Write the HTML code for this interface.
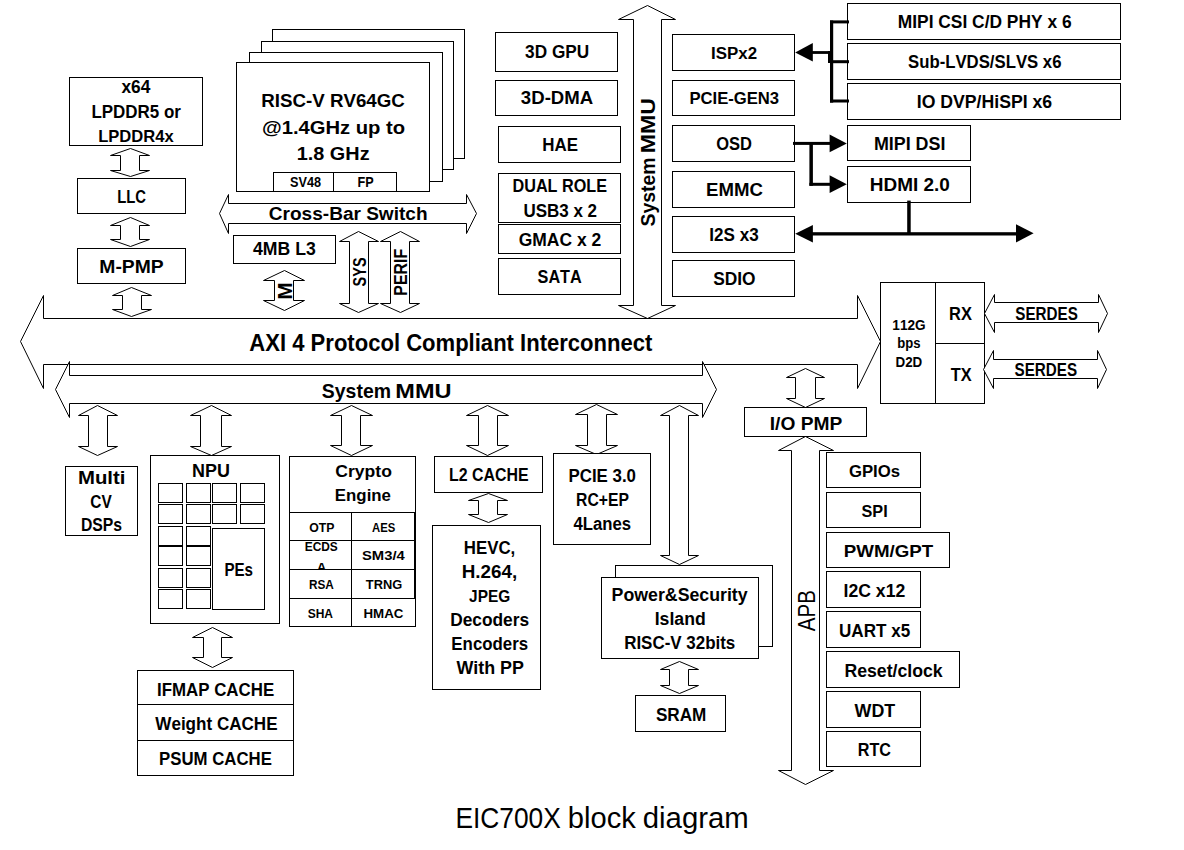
<!DOCTYPE html>
<html><head><meta charset="utf-8"><style>
html,body{margin:0;padding:0;background:#fff;width:1184px;height:850px;overflow:hidden}
svg{display:block}
text{font-family:"Liberation Sans",sans-serif;font-kerning:none;font-feature-settings:"kern" 0}
</style></head><body>
<svg width="1184" height="850" viewBox="0 0 1184 850">
<rect width="1184" height="850" fill="#fff"/>
<polygon points="130.5,148.5 149.5,155.5 139.5,155.5 139.5,170.5 149.5,170.5 130.5,176.5 110.5,170.5 120.5,170.5 120.5,155.5 110.5,155.5" fill="#fff" stroke="#000" stroke-width="1" stroke-linejoin="miter"/>
<polygon points="130.5,217.5 149.5,225.5 139.5,225.5 139.5,239.5 149.5,239.5 130.5,246.5 110.5,239.5 120.5,239.5 120.5,225.5 110.5,225.5" fill="#fff" stroke="#000" stroke-width="1" stroke-linejoin="miter"/>
<polygon points="131.5,287.5 151.5,295.5 141.5,295.5 141.5,309.5 151.5,309.5 131.5,316.5 112.5,309.5 122.5,309.5 122.5,295.5 112.5,295.5" fill="#fff" stroke="#000" stroke-width="1" stroke-linejoin="miter"/>
<rect x="69.5" y="77.5" width="133.0" height="68.0" fill="#fff" stroke="#000" stroke-width="1"/>
<text transform="translate(121.48,93.30) scale(0.9693,1)" font-size="17.88" font-weight="bold" fill="#000">x64</text>
<text transform="translate(91.46,118.30) scale(0.9732,1)" font-size="17.44" font-weight="bold" fill="#000">LPDDR5 or</text>
<text transform="translate(98.19,142.30) scale(0.9917,1)" font-size="16.72" font-weight="bold" fill="#000">LPDDR4x</text>
<rect x="77.5" y="178.5" width="108.0" height="35.0" fill="#fff" stroke="#000" stroke-width="1"/>
<text transform="translate(117.21,202.50) scale(0.8524,1)" font-size="17.44" font-weight="bold" fill="#000">LLC</text>
<rect x="77.5" y="248.5" width="108.0" height="35.0" fill="#fff" stroke="#000" stroke-width="1"/>
<text transform="translate(99.31,273.40) scale(1.0817,1)" font-size="17.88" font-weight="bold" fill="#000">M-PMP</text>
<rect x="272.5" y="29.5" width="192.0" height="129.0" fill="#fff" stroke="#000" stroke-width="1"/>
<rect x="261.5" y="41.5" width="192.0" height="128.0" fill="#fff" stroke="#000" stroke-width="1"/>
<rect x="249.5" y="52.5" width="193.0" height="129.0" fill="#fff" stroke="#000" stroke-width="1"/>
<rect x="236.5" y="62.5" width="193.0" height="129.0" fill="#fff" stroke="#000" stroke-width="1"/>
<rect x="273.5" y="172.5" width="60.0" height="19.0" fill="#fff" stroke="#000" stroke-width="1"/>
<rect x="333.5" y="172.5" width="63.0" height="19.0" fill="#fff" stroke="#000" stroke-width="1"/>
<text transform="translate(261.25,106.80) scale(0.9915,1)" font-size="18.90" font-weight="bold" fill="#000">RISC-V RV64GC</text>
<text transform="translate(262.05,134.00) scale(1.0690,1)" font-size="18.90" font-weight="bold" fill="#000">@1.4GHz up to</text>
<text transform="translate(296.75,160.00) scale(1.0514,1)" font-size="18.90" font-weight="bold" fill="#000">1.8 GHz</text>
<text transform="translate(290.03,187.20) scale(0.9194,1)" font-size="13.81" font-weight="bold" fill="#000">SV48</text>
<text transform="translate(357.45,187.20) scale(0.9170,1)" font-size="13.81" font-weight="bold" fill="#000">FP</text>
<polygon points="219.5,213.5 228.5,194.5 228.5,203.5 466.5,203.5 466.5,194.5 476.5,213.5 466.5,233.5 466.5,223.5 228.5,223.5 228.5,233.5" fill="#fff" stroke="#000" stroke-width="1" stroke-linejoin="miter"/>
<text transform="translate(268.82,220.40) scale(0.9927,1)" font-size="19.19" font-weight="bold" fill="#000">Cross-Bar Switch</text>
<rect x="233.5" y="235.5" width="102.0" height="28.0" fill="#fff" stroke="#000" stroke-width="1"/>
<text transform="translate(253.03,255.30) scale(0.9493,1)" font-size="18.60" font-weight="bold" fill="#000">4MB L3</text>
<polygon points="284.5,270.5 304.5,280.5 293.5,280.5 293.5,300.5 304.5,300.5 284.5,310.5 263.5,300.5 274.5,300.5 274.5,280.5 263.5,280.5" fill="#fff" stroke="#000" stroke-width="1" stroke-linejoin="miter"/>
<text transform="translate(291.60,299.57) rotate(-90) scale(1.0346,1)" font-size="19.77" font-weight="bold" fill="#000">M</text>
<polygon points="358.5,231.5 378.5,241.5 368.5,241.5 368.5,303.5 378.5,303.5 358.5,312.5 339.5,303.5 349.5,303.5 349.5,241.5 339.5,241.5" fill="#fff" stroke="#000" stroke-width="1" stroke-linejoin="miter"/>
<text transform="translate(365.60,286.42) rotate(-90) scale(0.7666,1)" font-size="18.90" font-weight="bold" fill="#000">SYS</text>
<polygon points="400.5,231.5 419.5,241.5 409.5,241.5 409.5,303.5 419.5,303.5 400.5,312.5 380.5,303.5 390.5,303.5 390.5,241.5 380.5,241.5" fill="#fff" stroke="#000" stroke-width="1" stroke-linejoin="miter"/>
<text transform="translate(406.90,295.66) rotate(-90) scale(0.8686,1)" font-size="18.31" font-weight="bold" fill="#000">PERIF</text>
<polygon points="647.5,5.5 675.5,19.5 661.5,19.5 661.5,305.5 675.5,305.5 647.5,318.5 618.5,305.5 633.5,305.5 633.5,19.5 618.5,19.5" fill="#fff" stroke="#000" stroke-width="1" stroke-linejoin="miter"/>
<text transform="translate(655.00,153.14) rotate(-90) scale(1.0958,1)" font-size="21.08" font-weight="bold" fill="#000">MMU</text>
<text transform="translate(655.00,226.46) rotate(-90) scale(0.9197,1)" font-size="21.08" font-weight="bold" fill="#000">System</text>
<rect x="495.5" y="32.5" width="122.0" height="39.0" fill="#fff" stroke="#000" stroke-width="1"/>
<text transform="translate(525.10,57.90) scale(0.9716,1)" font-size="17.73" font-weight="bold" fill="#000">3D GPU</text>
<rect x="495.5" y="80.5" width="122.0" height="35.0" fill="#fff" stroke="#000" stroke-width="1"/>
<text transform="translate(520.87,104.10) scale(1.0662,1)" font-size="17.44" font-weight="bold" fill="#000">3D-DMA</text>
<rect x="498.5" y="126.5" width="122.0" height="36.0" fill="#fff" stroke="#000" stroke-width="1"/>
<text transform="translate(542.27,151.20) scale(0.9692,1)" font-size="17.44" font-weight="bold" fill="#000">HAE</text>
<rect x="498.5" y="173.5" width="122.0" height="49.0" fill="#fff" stroke="#000" stroke-width="1"/>
<text transform="translate(512.52,192.10) scale(0.9290,1)" font-size="17.44" font-weight="bold" fill="#000">DUAL ROLE</text>
<text transform="translate(523.38,216.50) scale(0.9747,1)" font-size="17.44" font-weight="bold" fill="#000">USB3 x 2</text>
<rect x="498.5" y="224.5" width="122.0" height="29.0" fill="#fff" stroke="#000" stroke-width="1"/>
<text transform="translate(518.68,246.10) scale(1.0029,1)" font-size="17.44" font-weight="bold" fill="#000">GMAC x 2</text>
<rect x="498.5" y="258.5" width="122.0" height="36.0" fill="#fff" stroke="#000" stroke-width="1"/>
<text transform="translate(537.53,282.90) scale(0.9029,1)" font-size="18.02" font-weight="bold" fill="#000">SATA</text>
<rect x="672.5" y="34.5" width="122.0" height="36.0" fill="#fff" stroke="#000" stroke-width="1"/>
<text transform="translate(711.07,59.30) scale(0.9931,1)" font-size="17.01" font-weight="bold" fill="#000">ISPx2</text>
<rect x="672.5" y="80.5" width="122.0" height="35.0" fill="#fff" stroke="#000" stroke-width="1"/>
<text transform="translate(689.39,104.10) scale(0.9634,1)" font-size="17.30" font-weight="bold" fill="#000">PCIE-GEN3</text>
<rect x="672.5" y="125.5" width="122.0" height="36.0" fill="#fff" stroke="#000" stroke-width="1"/>
<text transform="translate(716.22,150.20) scale(0.9309,1)" font-size="17.73" font-weight="bold" fill="#000">OSD</text>
<rect x="672.5" y="171.5" width="122.0" height="36.0" fill="#fff" stroke="#000" stroke-width="1"/>
<text transform="translate(706.06,196.00) scale(1.0081,1)" font-size="18.46" font-weight="bold" fill="#000">EMMC</text>
<rect x="672.5" y="216.5" width="122.0" height="36.0" fill="#fff" stroke="#000" stroke-width="1"/>
<text transform="translate(709.36,240.70) scale(0.9473,1)" font-size="18.02" font-weight="bold" fill="#000">I2S x3</text>
<rect x="672.5" y="260.5" width="122.0" height="36.0" fill="#fff" stroke="#000" stroke-width="1"/>
<text transform="translate(713.20,284.80) scale(0.9401,1)" font-size="18.46" font-weight="bold" fill="#000">SDIO</text>
<rect x="847.5" y="3.5" width="273.0" height="36.0" fill="#fff" stroke="#000" stroke-width="1"/>
<text transform="translate(897.74,27.90) scale(0.9815,1)" font-size="17.73" font-weight="bold" fill="#000">MIPI CSI C/D PHY x 6</text>
<rect x="847.5" y="43.5" width="273.0" height="36.0" fill="#fff" stroke="#000" stroke-width="1"/>
<text transform="translate(908.02,68.10) scale(0.9447,1)" font-size="17.73" font-weight="bold" fill="#000">Sub-LVDS/SLVS x6</text>
<rect x="847.5" y="83.5" width="273.0" height="36.0" fill="#fff" stroke="#000" stroke-width="1"/>
<text transform="translate(916.72,108.20) scale(0.9972,1)" font-size="17.73" font-weight="bold" fill="#000">IO DVP/HiSPI x6</text>
<rect x="847.5" y="125.5" width="123.0" height="35.0" fill="#fff" stroke="#000" stroke-width="1"/>
<text transform="translate(873.90,149.50) scale(0.9850,1)" font-size="18.17" font-weight="bold" fill="#000">MIPI DSI</text>
<rect x="847.5" y="166.5" width="123.0" height="36.0" fill="#fff" stroke="#000" stroke-width="1"/>
<text transform="translate(869.83,191.30) scale(1.0777,1)" font-size="17.59" font-weight="bold" fill="#000">HDMI 2.0</text>
<rect x="830.0" y="20.5" width="3.2" height="82.1" fill="#000"/>
<rect x="830.0" y="20.4" width="19.0" height="3.0" fill="#000"/>
<rect x="830.0" y="60.2" width="19.0" height="3.0" fill="#000"/>
<rect x="830.0" y="99.5" width="19.0" height="3.0" fill="#000"/>
<rect x="812.0" y="51.1" width="20.0" height="2.8" fill="#000"/>
<rect x="828" y="51" width="3" height="12" fill="#000"/>
<polygon points="795.2,52.4 812.8,43.1 812.8,61.6" fill="#000"/>
<rect x="793.0" y="141.9" width="38.0" height="3.0" fill="#000"/>
<polygon points="846.8,143.4 829.6,134.6 829.6,152.2" fill="#000"/>
<rect x="809.4" y="142.0" width="3.5" height="43.8" fill="#000"/>
<rect x="809.4" y="182.8" width="21.6" height="3.0" fill="#000"/>
<polygon points="846.8,184.2 829.6,175.3 829.6,193.0" fill="#000"/>
<rect x="907.2" y="200.6" width="3.5" height="34.4" fill="#000"/>
<rect x="812.0" y="232.2" width="205.0" height="3.3" fill="#000"/>
<polygon points="795.2,233.8 812.9,225.0 812.9,242.6" fill="#000"/>
<polygon points="1033.6,233.3 1016.0,224.2 1016.0,242.4" fill="#000"/>
<polygon points="20.5,341.5 43.5,295.5 43.5,318.5 857.5,318.5 857.5,295.5 880.5,341.5 857.5,388.5 857.5,364.5 43.5,364.5 43.5,388.5" fill="#fff" stroke="#000" stroke-width="1" stroke-linejoin="miter"/>
<text transform="translate(249.35,350.70) scale(0.9483,1)" font-size="23.26" font-weight="bold" fill="#000">AXI 4 Protocol Compliant Interconnect</text>
<polygon points="55.5,389.5 69.5,361.5 69.5,375.5 702.5,375.5 702.5,361.5 716.5,389.5 702.5,417.5 702.5,403.5 69.5,403.5 69.5,417.5" fill="#fff" stroke="#000" stroke-width="1" stroke-linejoin="miter"/>
<text transform="translate(321.84,397.50) scale(0.9289,1)" font-size="20.93" font-weight="bold" fill="#000">System</text>
<text transform="translate(395.33,397.50) scale(1.1246,1)" font-size="20.93" font-weight="bold" fill="#000">MMU</text>
<rect x="880.5" y="282.5" width="104.0" height="121.0" fill="#fff" stroke="#000" stroke-width="1"/>
<line x1="935.5" y1="282.5" x2="935.5" y2="403.5" stroke="#000" stroke-width="1"/>
<line x1="935.5" y1="343.5" x2="984.5" y2="343.5" stroke="#000" stroke-width="1"/>
<text transform="translate(892.34,330.40) scale(0.9890,1)" font-size="13.81" font-weight="bold" fill="#000">112G</text>
<text transform="translate(897.24,348.30) scale(0.9492,1)" font-size="13.81" font-weight="bold" fill="#000">bps</text>
<text transform="translate(895.51,367.30) scale(0.9686,1)" font-size="13.81" font-weight="bold" fill="#000">D2D</text>
<text transform="translate(949.10,320.30) scale(0.9350,1)" font-size="17.59" font-weight="bold" fill="#000">RX</text>
<text transform="translate(950.72,380.50) scale(0.8970,1)" font-size="18.17" font-weight="bold" fill="#000">TX</text>
<polygon points="984.5,313.5 994.5,294.5 994.5,302.5 1098.5,302.5 1098.5,294.5 1107.5,313.5 1098.5,332.5 1098.5,322.5 994.5,322.5 994.5,332.5" fill="#fff" stroke="#000" stroke-width="1" stroke-linejoin="miter"/>
<text transform="translate(1015.26,320.30) scale(0.8660,1)" font-size="17.59" font-weight="bold" fill="#000">SERDES</text>
<polygon points="983.5,369.5 993.5,350.5 993.5,359.5 1097.5,359.5 1097.5,350.5 1106.5,369.5 1097.5,388.5 1097.5,378.5 993.5,378.5 993.5,388.5" fill="#fff" stroke="#000" stroke-width="1" stroke-linejoin="miter"/>
<text transform="translate(1014.56,375.80) scale(0.8718,1)" font-size="17.44" font-weight="bold" fill="#000">SERDES</text>
<polygon points="805.5,368.5 824.5,377.5 815.5,377.5 815.5,398.5 824.5,398.5 805.5,407.5 786.5,398.5 795.5,398.5 795.5,377.5 786.5,377.5" fill="#fff" stroke="#000" stroke-width="1" stroke-linejoin="miter"/>
<polygon points="805.5,436.5 833.5,450.5 819.5,450.5 819.5,770.5 833.5,770.5 805.5,784.5 778.5,770.5 791.5,770.5 791.5,450.5 778.5,450.5" fill="#fff" stroke="#000" stroke-width="1" stroke-linejoin="miter"/>
<rect x="744.5" y="407.5" width="122.0" height="29.0" fill="#fff" stroke="#000" stroke-width="1"/>
<text transform="translate(769.72,429.50) scale(1.0161,1)" font-size="18.90" font-weight="bold" fill="#000">I/O PMP</text>
<text transform="translate(814.50,631.24) rotate(-90) scale(0.8367,1)" font-size="24.56" font-weight="normal" fill="#000">APB</text>
<rect x="826.5" y="452.5" width="94.0" height="35.0" fill="#fff" stroke="#000" stroke-width="1"/>
<text transform="translate(848.91,477.10) scale(0.9930,1)" font-size="16.86" font-weight="bold" fill="#000">GPIOs</text>
<rect x="826.5" y="492.5" width="94.0" height="35.0" fill="#fff" stroke="#000" stroke-width="1"/>
<text transform="translate(861.53,517.10) scale(0.9624,1)" font-size="16.86" font-weight="bold" fill="#000">SPI</text>
<rect x="826.5" y="532.5" width="123.0" height="35.0" fill="#fff" stroke="#000" stroke-width="1"/>
<text transform="translate(843.75,557.10) scale(1.1106,1)" font-size="16.86" font-weight="bold" fill="#000">PWM/GPT</text>
<rect x="826.5" y="571.5" width="94.0" height="36.0" fill="#fff" stroke="#000" stroke-width="1"/>
<text transform="translate(843.52,597.20) scale(0.9710,1)" font-size="18.17" font-weight="bold" fill="#000">I2C x12</text>
<rect x="826.5" y="611.5" width="94.0" height="36.0" fill="#fff" stroke="#000" stroke-width="1"/>
<text transform="translate(838.97,637.30) scale(0.9404,1)" font-size="18.17" font-weight="bold" fill="#000">UART x5</text>
<rect x="826.5" y="651.5" width="133.0" height="36.0" fill="#fff" stroke="#000" stroke-width="1"/>
<text transform="translate(844.42,677.10) scale(0.9730,1)" font-size="18.17" font-weight="bold" fill="#000">Reset/clock</text>
<rect x="826.5" y="691.5" width="94.0" height="36.0" fill="#fff" stroke="#000" stroke-width="1"/>
<text transform="translate(854.58,717.20) scale(0.9817,1)" font-size="18.17" font-weight="bold" fill="#000">WDT</text>
<rect x="826.5" y="731.5" width="94.0" height="35.0" fill="#fff" stroke="#000" stroke-width="1"/>
<text transform="translate(857.72,755.90) scale(0.8898,1)" font-size="18.17" font-weight="bold" fill="#000">RTC</text>
<polygon points="97.5,405.5 117.5,415.5 107.5,415.5 107.5,446.5 117.5,446.5 97.5,455.5 78.5,446.5 88.5,446.5 88.5,415.5 78.5,415.5" fill="#fff" stroke="#000" stroke-width="1" stroke-linejoin="miter"/>
<rect x="65.5" y="466.5" width="72.0" height="69.0" fill="#fff" stroke="#000" stroke-width="1"/>
<text transform="translate(77.94,483.80) scale(1.1485,1)" font-size="17.73" font-weight="bold" fill="#000">Multi</text>
<text transform="translate(90.37,507.70) scale(0.8703,1)" font-size="17.73" font-weight="bold" fill="#000">CV</text>
<text transform="translate(80.94,531.40) scale(0.9043,1)" font-size="17.44" font-weight="bold" fill="#000">DSPs</text>
<polygon points="211.5,405.5 231.5,415.5 221.5,415.5 221.5,446.5 231.5,446.5 211.5,455.5 190.5,446.5 200.5,446.5 200.5,415.5 190.5,415.5" fill="#fff" stroke="#000" stroke-width="1" stroke-linejoin="miter"/>
<rect x="150.5" y="455.5" width="129.0" height="168.0" fill="#fff" stroke="#000" stroke-width="1"/>
<text transform="translate(192.10,477.10) scale(1.0291,1)" font-size="17.44" font-weight="bold" fill="#000">NPU</text>
<rect x="158.5" y="483.5" width="24.0" height="19.0" fill="#fff" stroke="#000" stroke-width="1"/>
<rect x="186.5" y="483.5" width="24.0" height="19.0" fill="#fff" stroke="#000" stroke-width="1"/>
<rect x="212.5" y="483.5" width="24.0" height="19.0" fill="#fff" stroke="#000" stroke-width="1"/>
<rect x="240.5" y="483.5" width="24.0" height="19.0" fill="#fff" stroke="#000" stroke-width="1"/>
<rect x="158.5" y="504.5" width="24.0" height="19.0" fill="#fff" stroke="#000" stroke-width="1"/>
<rect x="186.5" y="504.5" width="24.0" height="19.0" fill="#fff" stroke="#000" stroke-width="1"/>
<rect x="212.5" y="504.5" width="24.0" height="19.0" fill="#fff" stroke="#000" stroke-width="1"/>
<rect x="240.5" y="504.5" width="24.0" height="19.0" fill="#fff" stroke="#000" stroke-width="1"/>
<rect x="158.5" y="526.5" width="24.0" height="19.0" fill="#fff" stroke="#000" stroke-width="1"/>
<rect x="186.5" y="526.5" width="24.0" height="19.0" fill="#fff" stroke="#000" stroke-width="1"/>
<rect x="158.5" y="546.5" width="24.0" height="19.0" fill="#fff" stroke="#000" stroke-width="1"/>
<rect x="186.5" y="546.5" width="24.0" height="19.0" fill="#fff" stroke="#000" stroke-width="1"/>
<rect x="158.5" y="568.5" width="24.0" height="19.0" fill="#fff" stroke="#000" stroke-width="1"/>
<rect x="186.5" y="568.5" width="24.0" height="19.0" fill="#fff" stroke="#000" stroke-width="1"/>
<rect x="158.5" y="589.5" width="24.0" height="19.0" fill="#fff" stroke="#000" stroke-width="1"/>
<rect x="186.5" y="589.5" width="24.0" height="19.0" fill="#fff" stroke="#000" stroke-width="1"/>
<rect x="212.5" y="528.5" width="52.0" height="81.0" fill="#fff" stroke="#000" stroke-width="1"/>
<text transform="translate(224.39,576.30) scale(0.8406,1)" font-size="18.02" font-weight="bold" fill="#000">PEs</text>
<polygon points="212.5,627.5 232.5,637.5 221.5,637.5 221.5,657.5 232.5,657.5 212.5,667.5 192.5,657.5 203.5,657.5 203.5,637.5 192.5,637.5" fill="#fff" stroke="#000" stroke-width="1" stroke-linejoin="miter"/>
<rect x="137.5" y="670.5" width="156.0" height="105.0" fill="#fff" stroke="#000" stroke-width="1"/>
<line x1="137.5" y1="704.5" x2="293.5" y2="704.5" stroke="#000" stroke-width="1"/>
<line x1="137.5" y1="740.5" x2="293.5" y2="740.5" stroke="#000" stroke-width="1"/>
<text transform="translate(156.97,695.50) scale(0.9008,1)" font-size="18.75" font-weight="bold" fill="#000">IFMAP CACHE</text>
<text transform="translate(155.28,729.90) scale(0.9108,1)" font-size="18.75" font-weight="bold" fill="#000">Weight CACHE</text>
<text transform="translate(159.08,764.80) scale(0.8955,1)" font-size="18.75" font-weight="bold" fill="#000">PSUM CACHE</text>
<polygon points="351.5,405.5 372.5,415.5 360.5,415.5 360.5,445.5 372.5,445.5 351.5,455.5 330.5,445.5 341.5,445.5 341.5,415.5 330.5,415.5" fill="#fff" stroke="#000" stroke-width="1" stroke-linejoin="miter"/>
<rect x="289.5" y="456.5" width="126.0" height="170.0" fill="#fff" stroke="#000" stroke-width="1"/>
<line x1="289.5" y1="512.5" x2="415.5" y2="512.5" stroke="#000" stroke-width="1"/>
<line x1="289.5" y1="540.5" x2="415.5" y2="540.5" stroke="#000" stroke-width="1"/>
<line x1="289.5" y1="569.5" x2="415.5" y2="569.5" stroke="#000" stroke-width="1"/>
<line x1="289.5" y1="598.5" x2="415.5" y2="598.5" stroke="#000" stroke-width="1"/>
<line x1="351.5" y1="512.5" x2="351.5" y2="626.5" stroke="#000" stroke-width="1"/>
<line x1="414.5" y1="512.5" x2="414.5" y2="598.5" stroke="#000" stroke-width="1"/>
<text transform="translate(335.28,477.40) scale(1.0988,1)" font-size="15.99" font-weight="bold" fill="#000">Crypto</text>
<text transform="translate(334.87,501.00) scale(1.0526,1)" font-size="15.99" font-weight="bold" fill="#000">Engine</text>
<text transform="translate(309.20,532.10) scale(0.9816,1)" font-size="12.50" font-weight="bold" fill="#000">OTP</text>
<text transform="translate(372.02,532.10) scale(0.9035,1)" font-size="12.50" font-weight="bold" fill="#000">AES</text>
<text transform="translate(304.70,551.10) scale(0.9520,1)" font-size="12.50" font-weight="bold" fill="#000">ECDS</text>
<clipPath id="ca"><rect x="290" y="540" width="61" height="29.5"/></clipPath>
<g clip-path="url(#ca)">
<text transform="translate(316.67,571.80) scale(1.0732,1)" font-size="12.50" font-weight="bold" fill="#000">A</text>
</g>
<text transform="translate(361.97,560.10) scale(1.1450,1)" font-size="12.94" font-weight="bold" fill="#000">SM3/4</text>
<text transform="translate(308.91,589.00) scale(0.9117,1)" font-size="12.94" font-weight="bold" fill="#000">RSA</text>
<text transform="translate(365.86,589.00) scale(0.9916,1)" font-size="12.94" font-weight="bold" fill="#000">TRNG</text>
<text transform="translate(307.65,618.00) scale(0.9392,1)" font-size="12.79" font-weight="bold" fill="#000">SHA</text>
<text transform="translate(363.51,618.00) scale(1.0414,1)" font-size="12.79" font-weight="bold" fill="#000">HMAC</text>
<polygon points="487.5,405.5 508.5,415.5 497.5,415.5 497.5,445.5 508.5,445.5 487.5,455.5 466.5,445.5 478.5,445.5 478.5,415.5 466.5,415.5" fill="#fff" stroke="#000" stroke-width="1" stroke-linejoin="miter"/>
<rect x="434.5" y="456.5" width="108.0" height="36.0" fill="#fff" stroke="#000" stroke-width="1"/>
<text transform="translate(448.93,481.00) scale(0.9137,1)" font-size="17.44" font-weight="bold" fill="#000">L2 CACHE</text>
<polygon points="488.5,493.5 507.5,500.5 497.5,500.5 497.5,514.5 507.5,514.5 488.5,522.5 468.5,514.5 478.5,514.5 478.5,500.5 468.5,500.5" fill="#fff" stroke="#000" stroke-width="1" stroke-linejoin="miter"/>
<rect x="432.5" y="525.5" width="108.0" height="164.0" fill="#fff" stroke="#000" stroke-width="1"/>
<text transform="translate(463.77,554.40) scale(0.9672,1)" font-size="17.44" font-weight="bold" fill="#000">HEVC,</text>
<text transform="translate(461.74,578.10) scale(1.0804,1)" font-size="17.44" font-weight="bold" fill="#000">H.264,</text>
<text transform="translate(469.07,602.00) scale(0.8852,1)" font-size="17.44" font-weight="bold" fill="#000">JPEG</text>
<text transform="translate(450.14,626.30) scale(0.9934,1)" font-size="17.44" font-weight="bold" fill="#000">Decoders</text>
<text transform="translate(451.37,650.00) scale(0.9665,1)" font-size="17.44" font-weight="bold" fill="#000">Encoders</text>
<text transform="translate(456.38,673.90) scale(1.0250,1)" font-size="17.44" font-weight="bold" fill="#000">With PP</text>
<polygon points="596.5,404.5 617.5,414.5 606.5,414.5 606.5,445.5 617.5,445.5 596.5,454.5 575.5,445.5 587.5,445.5 587.5,414.5 575.5,414.5" fill="#fff" stroke="#000" stroke-width="1" stroke-linejoin="miter"/>
<rect x="553.5" y="453.5" width="97.0" height="91.0" fill="#fff" stroke="#000" stroke-width="1"/>
<text transform="translate(568.47,482.30) scale(0.9515,1)" font-size="17.73" font-weight="bold" fill="#000">PCIE 3.0</text>
<text transform="translate(576.05,506.00) scale(0.8871,1)" font-size="17.73" font-weight="bold" fill="#000">RC+EP</text>
<text transform="translate(573.45,529.70) scale(0.9432,1)" font-size="17.73" font-weight="bold" fill="#000">4Lanes</text>
<polygon points="679.5,405.5 698.5,415.5 688.5,415.5 688.5,555.5 698.5,555.5 679.5,564.5 660.5,555.5 669.5,555.5 669.5,415.5 660.5,415.5" fill="#fff" stroke="#000" stroke-width="1" stroke-linejoin="miter"/>
<rect x="615.5" y="565.5" width="157.0" height="81.0" fill="#fff" stroke="#000" stroke-width="1"/>
<rect x="601.5" y="577.5" width="157.0" height="81.0" fill="#fff" stroke="#000" stroke-width="1"/>
<text transform="translate(611.61,601.20) scale(0.9845,1)" font-size="18.02" font-weight="bold" fill="#000">Power&amp;Security</text>
<text transform="translate(654.72,625.20) scale(0.9801,1)" font-size="18.02" font-weight="bold" fill="#000">Island</text>
<text transform="translate(624.17,649.20) scale(0.9412,1)" font-size="18.02" font-weight="bold" fill="#000">RISC-V 32bits</text>
<polygon points="679.5,661.5 698.5,669.5 688.5,669.5 688.5,685.5 698.5,685.5 679.5,693.5 660.5,685.5 669.5,685.5 669.5,669.5 660.5,669.5" fill="#fff" stroke="#000" stroke-width="1" stroke-linejoin="miter"/>
<rect x="635.5" y="695.5" width="90.0" height="36.0" fill="#fff" stroke="#000" stroke-width="1"/>
<text transform="translate(655.91,721.20) scale(0.9448,1)" font-size="18.17" font-weight="bold" fill="#000">SRAM</text>
<text transform="translate(455.44,827.60) scale(0.9152,1)" font-size="28.78" font-weight="normal" fill="#000">EIC700X</text>
<text transform="translate(567.82,827.60) scale(1.0127,1)" font-size="28.78" font-weight="normal" fill="#000">block</text>
<text transform="translate(642.77,827.60) scale(1.0192,1)" font-size="28.78" font-weight="normal" fill="#000">diagram</text>
</svg></body></html>
